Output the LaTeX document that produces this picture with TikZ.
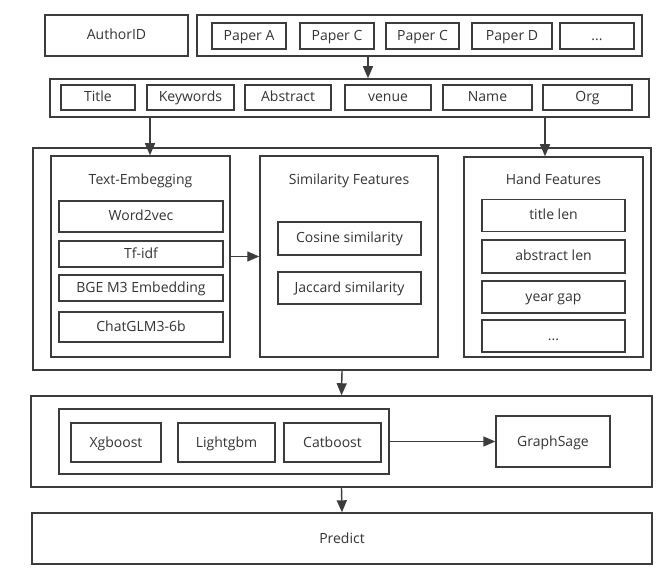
\documentclass[tikz,border=0pt]{standalone}
\usepackage{fontspec}
\setmainfont{Open Sans}
\usetikzlibrary{arrows.meta}

\definecolor{linegray}{HTML}{3C3C3C}
\definecolor{textgray}{HTML}{333333}

\tikzset{
  box/.style={draw=linegray, line width=1.4pt, rectangle, inner sep=0pt,
    text=textgray, text height=11pt, text depth=2pt,
    font=\fontsize{14}{16}\selectfont},
  frame/.style={draw=linegray, line width=1.5pt, rectangle, inner sep=0pt},
  label/.style={text=textgray, inner sep=0pt, text height=11pt, text depth=2pt,
    font=\fontsize{14}{16}\selectfont},
  arr/.style={draw=linegray, line width=1.4pt, -{Triangle[length=12pt,width=10pt]}},
}

\begin{document}
\begin{tikzpicture}[x=1pt, y=-1pt]
  \useasboundingbox (0,0) rectangle (664,580);

  % top row
  \node [box, minimum width=143, minimum height=41] (author) at (116.5,35.5) {AuthorID};
  \node [frame, minimum width=445, minimum height=41] (papers) at (419.5,35.5) {};
  \node [box, minimum width=74, minimum height=26] (pa) at (249,36) {Paper A};
  \node [box, minimum width=74, minimum height=26] (pc1) at (337,36) {Paper C};
  \node [box, minimum width=73, minimum height=26] (pc2) at (422.5,36) {Paper C};
  \node [box, minimum width=80, minimum height=26] (pd) at (512,36) {Paper D};
  \node [box, minimum width=74, minimum height=26] (pmore) at (597,36) {...};

  % attributes
  \node [frame, minimum width=599, minimum height=38] (attrs) at (349.5,98) {};
  \node [box, minimum width=74, minimum height=25] (title) at (98,97.5) {Title};
  \node [box, minimum width=87, minimum height=25] (keywords) at (190.5,97.5) {Keywords};
  \node [box, minimum width=86, minimum height=25] (abstract) at (288,97.5) {Abstract};
  \node [box, minimum width=86, minimum height=25] (venue) at (388,97.5) {venue};
  \node [box, minimum width=89, minimum height=25] (name) at (487.5,97.5) {Name};
  \node [box, minimum width=89, minimum height=25] (org) at (587.5,97.5) {Org};

  % features
  \node [frame, minimum width=618, minimum height=222] (feats) at (342,259) {};

  \node [frame, minimum width=179, minimum height=201] (emb) at (140.5,256.5) {};
  \node [label] (embname) at (140.5,180) {Text-Embegging};
  \node [box, minimum width=164, minimum height=31] (w2v) at (141,216.5) {Word2vec};
  \node [box, minimum width=164, minimum height=26] (tfidf) at (141,254) {Tf-idf};
  \node [box, minimum width=164, minimum height=26] (bge) at (141,288) {BGE M3 Embedding};
  \node [box, minimum width=164, minimum height=30] (glm) at (141,327) {ChatGLM3-6b};

  \node [frame, minimum width=178, minimum height=201] (sim) at (349,256.5) {};
  \node [label] (simname) at (349,180) {Similarity Features};
  \node [box, minimum width=143, minimum height=33] (cos) at (349.5,238.5) {Cosine similarity};
  \node [box, minimum width=143, minimum height=32] (jac) at (349.5,288) {Jaccard similarity};

  \node [frame, minimum width=179, minimum height=200] (hand) at (553.5,257) {};
  \node [label] (handname) at (553.5,180) {Hand Features};
  \node [box, minimum width=143, minimum height=32] (tlen) at (553.5,215.5) {title len};
  \node [box, minimum width=143, minimum height=33] (alen) at (553.5,256.5) {abstract len};
  \node [box, minimum width=143, minimum height=32] (ygap) at (553.5,297) {year gap};
  \node [box, minimum width=143, minimum height=32] (hmore) at (553.5,336) {...};

  % models
  \node [frame, minimum width=621, minimum height=91] (models) at (341.5,441.5) {};
  \node [frame, minimum width=330, minimum height=65] (trees) at (224,441.5) {};
  \node [box, minimum width=90, minimum height=39] (xgb) at (116,442.5) {Xgboost};
  \node [box, minimum width=97, minimum height=39] (lgb) at (226.5,442.5) {Lightgbm};
  \node [box, minimum width=97, minimum height=39] (cat) at (332.5,442.5) {Catboost};
  \node [box, minimum width=114, minimum height=51] (sage) at (553,441.5) {GraphSage};

  \node [box, minimum width=620, minimum height=51] (predict) at (342,538.5) {Predict};

  % arrow columns
  \coordinate (c1) at (368,0);
  \coordinate (c2) at (150,0);
  \coordinate (c3) at (545,0);

  \draw [arr] (papers.south -| c1) -- (attrs.north -| c1);
  \draw [arr] (attrs.south -| c2) -- (emb.north -| c2);
  \draw [arr] (attrs.south -| c3) -- (hand.north -| c3);
  \draw [arr] (emb.east) -- (sim.west);
  \draw [arr] (feats.south) -- (models.north);
  \draw [arr] (trees.east) -- (sage.west);
  \draw [arr] (models.south) -- (predict.north);
\end{tikzpicture}
\end{document}
